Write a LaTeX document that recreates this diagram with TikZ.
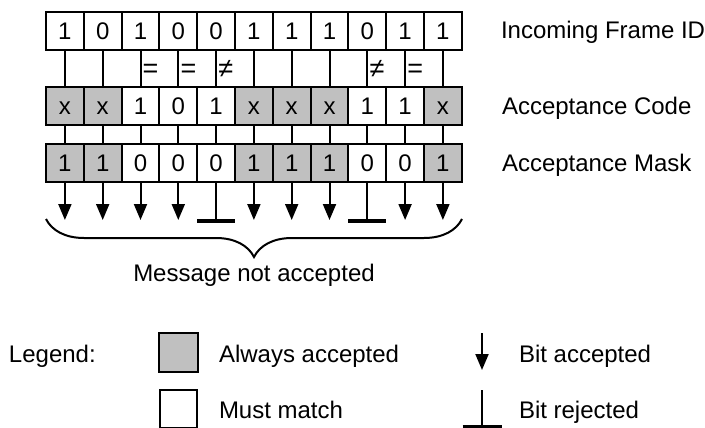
\documentclass[tikz,border=0pt]{standalone}
\usepackage{fontspec}
\setmainfont{Liberation Sans}
\usetikzlibrary{arrows.meta,decorations.pathreplacing}
\definecolor{gris}{RGB}{192,192,192}

\begin{document}
\begin{tikzpicture}[x=1pt,y=-1pt,line width=2pt,>={Triangle[length=16pt,width=13pt]},
  font=\fontsize{24}{28}\selectfont,
  celda/.style={draw,minimum width=37.8pt,minimum height=38pt,inner sep=0pt,text height=17pt,text depth=0pt},
  m1/.style={fill=gris}, m0/.style={fill=white},
  etiq/.style={anchor=base west,inner sep=0pt}]
  \useasboundingbox (0,0) rectangle (705,428);
  % filas: ID entrante, codigo y mascara
  \foreach \i/\id/\cod/\msk in {1/1/x/1,2/0/x/1,3/1/1/0,4/0/0/0,5/0/1/0,6/1/x/1,7/1/x/1,8/1/x/1,9/0/1/0,10/1/1/0,11/1/x/1}{
    \node[celda] (id\i) at ({46+37.8*(\i-0.5)},31) {\id};
    \node[celda,m\msk] (cod\i) at ({46+37.8*(\i-0.5)},106) {\cod};
    \node[celda,m\msk] (msk\i) at ({46+37.8*(\i-0.5)},163) {\msk};
    \draw (id\i) -- (cod\i); \draw (cod\i) -- (msk\i);
  }
  % comparaciones bit a bit
  \foreach \i/\s in {3/=,4/=,5/≠,9/≠,10/=}
    \node[etiq,font=\fontsize{27}{30}\selectfont] (cmp\i) at ({46+37.8*(\i-0.5)+1.2},78) {\s};
  % bits aceptados y rechazados
  \foreach \i in {1,2,3,4,6,7,8,10,11}
    \draw[->] (msk\i.south) -- ++(0,37);
  \foreach \i in {5,9}{
    \draw (msk\i.south) -- ++(0,38) coordinate (rech\i);
    \draw[line width=3.5pt] ([xshift=-18.9pt]rech\i) -- ([xshift=18.9pt]rech\i);
  }
  \draw[decorate,decoration={brace,mirror,amplitude=38pt}] (46,219) -- (462,219);
  \node[anchor=base] (msg) at (254,281) {Message not accepted};
  % nombres de las filas
  \node[etiq] (lid) at (500,39) {Incoming Frame ID};
  \node[etiq] (lcod) at (501,114.5) {Acceptance Code};
  \node[etiq] (lmsk) at (501,171.5) {Acceptance Mask};
  % leyenda
  \node[etiq] (ley) at (8,362) {Legend:};
  \node[celda,m1,minimum width=39pt,minimum height=39pt] (cgris) at (178.5,352.5) {};
  \node[etiq] (lgris) at (218,362) {Always accepted};
  \node[celda,m0] (cblanca) at (178.5,408.5) {};
  \node[etiq] (lblanca) at (218,418) {Must match};
  \coordinate (fa1) at (482,333); \coordinate (fa2) at (482,370);
  \draw[->] (fa1) -- (fa2);
  \node[etiq] (lacep) at (518,362) {Bit accepted};
  \coordinate (fr1) at (482,390); \coordinate (fr2) at (482,427);
  \draw (fr1) -- (fr2);
  \draw[line width=3.5pt] ([xshift=-19.5pt]fr2) -- ([xshift=19.5pt]fr2);
  \node[etiq] (lrech) at (518,418) {Bit rejected};
\end{tikzpicture}
\end{document}
